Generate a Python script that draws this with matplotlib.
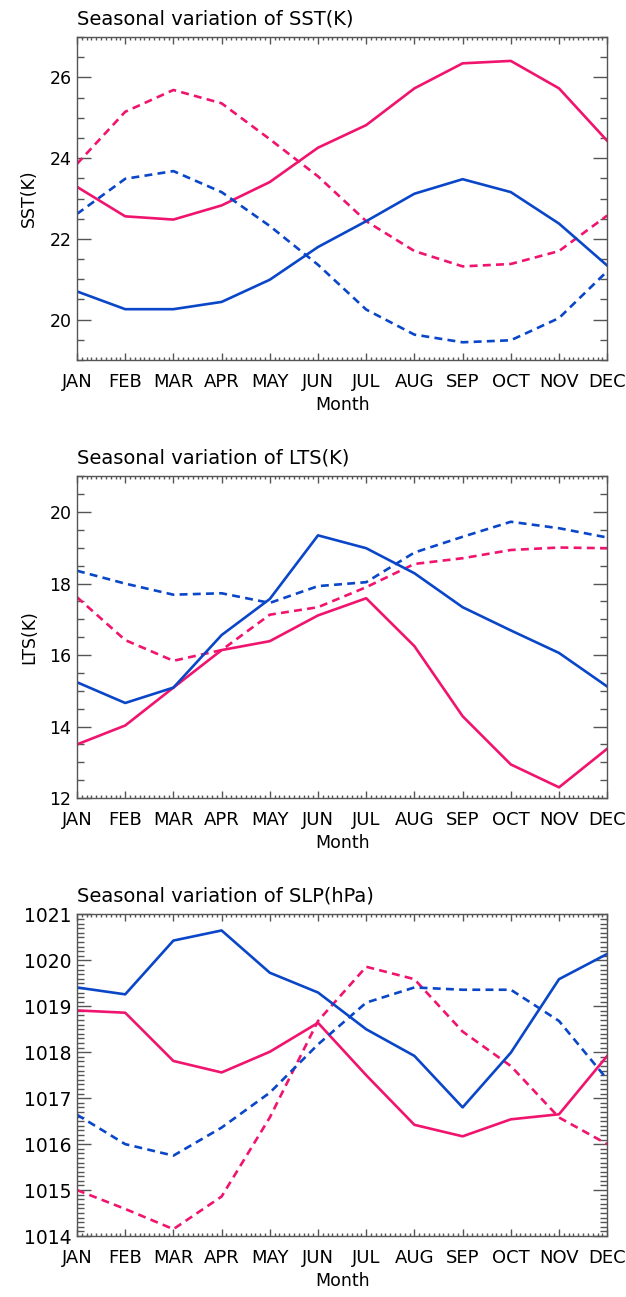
import numpy as np
import matplotlib.pyplot as plt
from matplotlib.ticker import MultipleLocator, AutoMinorLocator

# -------------------------------
# Data
# -------------------------------
months = ["JAN", "FEB", "MAR", "APR", "MAY", "JUN",
          "JUL", "AUG", "SEP", "OCT", "NOV", "DEC"]

sst_red_solid = [23.29, 22.56, 22.48, 22.83, 23.41, 24.26, 24.82, 25.73, 26.35, 26.41, 25.73, 24.43]
sst_red_dash = [23.86, 25.15, 25.69, 25.36, 24.47, 23.55, 22.44, 21.70, 21.32, 21.38, 21.70, 22.58]
sst_blue_solid = [20.70, 20.26, 20.26, 20.44, 20.99, 21.80, 22.44, 23.12, 23.48, 23.16, 22.38, 21.34]
sst_blue_dash = [22.62, 23.49, 23.68, 23.16, 22.32, 21.36, 20.25, 19.63, 19.44, 19.49, 20.04, 21.20]

lts_red_solid = [13.50, 14.03, 15.09, 16.14, 16.39, 17.11, 17.59, 16.25, 14.29, 12.94, 12.30, 13.38]
lts_red_dash = [17.62, 16.42, 15.84, 16.14, 17.13, 17.34, 17.90, 18.55, 18.71, 18.94, 19.01, 18.99]
lts_blue_solid = [15.24, 14.66, 15.09, 16.56, 17.57, 19.35, 18.99, 18.29, 17.34, 16.69, 16.06, 15.12]
lts_blue_dash = [18.36, 18.00, 17.69, 17.73, 17.46, 17.93, 18.04, 18.87, 19.31, 19.73, 19.55, 19.29]

slp_red_solid = [1018.91, 1018.86, 1017.81, 1017.56, 1018.01, 1018.64, 1017.50, 1016.42, 1016.17, 1016.54, 1016.65, 1017.92]
slp_red_dash = [1015.00, 1014.59, 1014.15, 1014.86, 1016.58, 1018.68, 1019.86, 1019.59, 1018.45, 1017.70, 1016.58, 1016.00]
slp_blue_solid = [1019.41, 1019.26, 1020.43, 1020.65, 1019.73, 1019.30, 1018.50, 1017.92, 1016.80, 1017.99, 1019.59, 1020.14]
slp_blue_dash = [1016.64, 1016.00, 1015.75, 1016.36, 1017.12, 1018.17, 1019.08, 1019.41, 1019.36, 1019.36, 1018.68, 1017.41]

RED = "#f0146e"
BLUE = "#0a46c8"
AXC = "#555555"

x = np.arange(len(months))

fig = plt.figure(figsize=(6.26, 12.97), dpi=100)

panels = [
    ([0.123, 0.7224, 0.847, 0.249], "Seasonal variation of SST(K)", "SST(K)",
     (19, 27), 2, 4, 12.5,
     sst_red_solid, sst_red_dash, sst_blue_solid, sst_blue_dash),
    ([0.123, 0.3847, 0.847, 0.248], "Seasonal variation of LTS(K)", "LTS(K)",
     (12, 21), 2, 4, 12.5,
     lts_red_solid, lts_red_dash, lts_blue_solid, lts_blue_dash),
    ([0.123, 0.0470, 0.847, 0.248], "Seasonal variation of SLP(hPa)", "",
     (1014, 1021), 1, 10, 13.5,
     slp_red_solid, slp_red_dash, slp_blue_solid, slp_blue_dash),
]

for rect, title, ylab, ylim, major, nminor, ysize, rs, rd, bs, bd in panels:
    ax = fig.add_axes(rect)
    lw = 1.9
    ax.plot(x, rs, color=RED, lw=lw)
    ax.plot(x, rd, color=RED, lw=lw, ls=(0, (3, 2)))
    ax.plot(x, bs, color=BLUE, lw=lw)
    ax.plot(x, bd, color=BLUE, lw=lw, ls=(0, (3, 2)))

    ax.set_xlim(0, 11)
    ax.set_ylim(*ylim)
    ax.set_xticks(x)
    ax.set_xticklabels(months)
    ax.xaxis.set_minor_locator(AutoMinorLocator(10))
    ax.yaxis.set_major_locator(MultipleLocator(major))
    ax.yaxis.set_minor_locator(AutoMinorLocator(nminor))

    for s in ax.spines.values():
        s.set_color(AXC)
        s.set_linewidth(1.0)
    ax.tick_params(which="both", direction="in", top=True, right=True,
                   color=AXC, width=1.0)
    ax.tick_params(axis="y", which="major", length=10, labelsize=ysize, pad=4)
    ax.tick_params(axis="y", which="minor", length=5)
    ax.tick_params(axis="x", which="major", length=5, labelsize=13, pad=9)
    ax.tick_params(axis="x", which="minor", length=2.5)

    ax.set_title(title, loc="left", fontsize=14, pad=9)
    ax.set_xlabel("Month", fontsize=12.5, labelpad=4)
    if ylab:
        ax.set_ylabel(ylab, fontsize=12.5, labelpad=8)

plt.savefig("out.png", dpi=100)
